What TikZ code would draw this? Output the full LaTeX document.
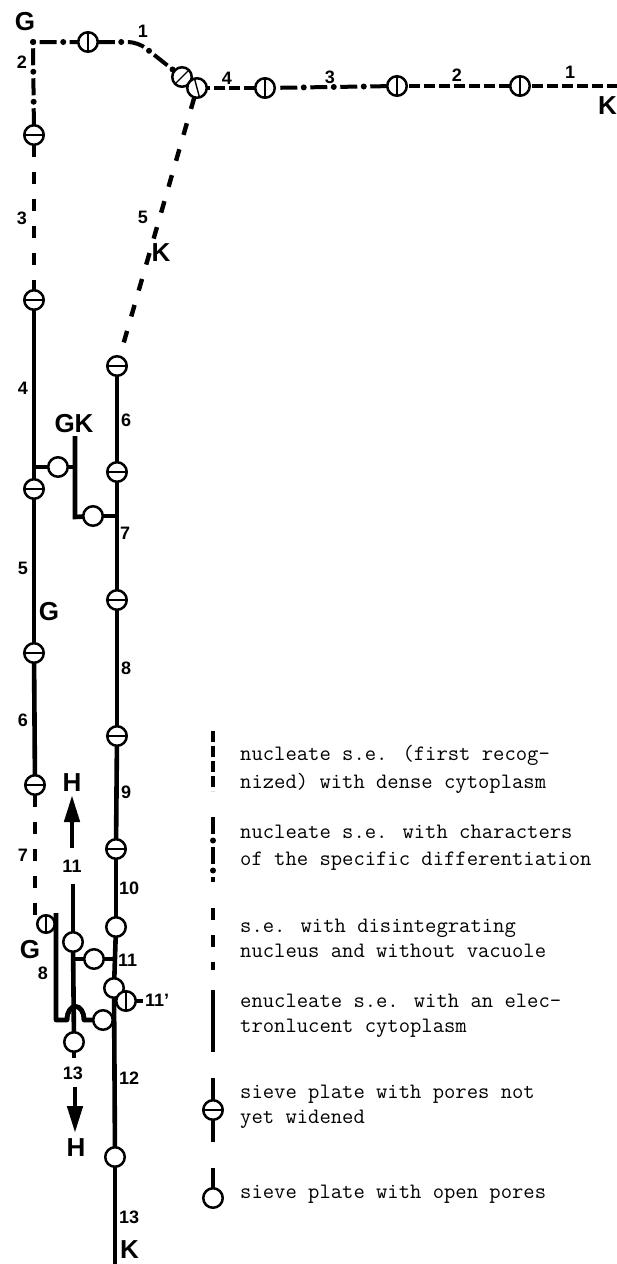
\documentclass[tikz,border=0pt]{standalone}
\usepackage{fontspec}
\setmainfont{Liberation Sans}
\usetikzlibrary{arrows.meta}
\newcommand\platebar[2]{\draw[bar] (#1.center) ++(#2:8.6pt) -- ++(#2+180:17.2pt);}
\begin{document}
\begin{tikzpicture}[x=1pt,y=-1pt,
  se/.style={line width=4.6pt},
  seA/.style={line width=4.2pt, dash pattern=on 11pt off 4pt},
  seB/.style={line width=4pt, dash pattern=on 17pt off 13pt,
     preaction={draw, line width=6pt, line cap=round, dash pattern=on 0pt off 30pt, dash phase=6.5pt}},
  seC/.style={line width=4.4pt, dash pattern=on 12pt off 15pt},
  plate/.style={circle, draw, fill=white, line width=2.5pt, minimum size=19.5pt, inner sep=0pt, outer sep=0pt},
  bar/.style={line width=1.4pt},
  numlab/.style={font=\bfseries\fontsize{18}{18}\selectfont, inner sep=0pt},
  letr/.style={font=\bfseries\fontsize{26}{26}\selectfont, inner sep=0pt},
  leg/.style={font=\ttfamily\fontsize{22}{26}\selectfont, anchor=base west, inner sep=0pt},
  harrow/.style={line width=4.6pt, -{Triangle[length=27pt,width=15pt]}}
]
\useasboundingbox (0,0) rectangle (616,1264);

% ---------------- G line (left) ----------------
\coordinate (Gc) at (33,42);
\node[letr] (Gtop) at (25,22) {G};
\node[plate] (g1a) at (88,42) {}; \platebar{g1a}{90}
\coordinate (g1b) at (138,42);
\node[plate] (g1c) at (182,77) {}; \platebar{g1c}{45}
\node[plate] (g2) at (34,135) {}; \platebar{g2}{0}
\node[plate] (g3) at (34,300) {}; \platebar{g3}{0}
\node[plate] (g4) at (34,489) {}; \platebar{g4}{0}
\node[plate] (g5) at (34,653) {}; \platebar{g5}{0}
\node[plate] (g6) at (35,785) {}; \platebar{g6}{0}

\draw[seB] (g2) -- (Gc) -- (g1a);
\draw[seB, rounded corners=10pt] (g1a) -- (g1b) -- (g1c);
\fill (Gc) circle (3pt);
\draw[seC] (g2) -- (g3);
\draw[se] (g3) -- (g4);
\draw[se] (g4) -- (g5);
\draw[se] (g5) -- (g6);
\coordinate (g7e) at (35,918);
\draw[seC] (g6) -- (g7e);

\node[numlab] (ng1) at (143,31) {1};
\node[numlab] (ng2) at (22,62) {2};
\node[numlab] (ng3) at (22,218) {3};
\node[numlab] (ng4) at (23,388) {4};
\node[numlab] (ng5) at (23,568) {5};
\node[letr] (Gmid) at (49,612) {G};
\node[numlab] (ng6) at (23,720) {6};
\node[numlab] (ng7) at (23,855) {7};

% GK branch
\coordinate (gkj) at (34,467);
\node[plate] (gko) at (58,467) {};
\coordinate (gkm) at (75,467);
\coordinate (gkt) at (75,436);
\coordinate (gkb) at (75,517);
\node[plate] (gkp) at (93,516) {};
\coordinate (k7j) at (117,516);
\draw[se] (gkj) -- (gko);
\draw[se] (gko) -- (gkm);
\draw[se] (gkt) -- (gkb) -- (gkp);
\draw[se] (gkp) -- (k7j);
\node[letr] (GKlab) at (74,424) {GK};

% lower left part (8)
\node[plate, minimum size=17.5pt] (g8) at (46,924) {}; \platebar{g8}{90}
\coordinate (g8t) at (56,913);
\coordinate (g8b) at (56,1020);
\coordinate (g8h1) at (67,1020);
\coordinate (g8h2) at (84,1020);
\node[plate] (hp) at (103,1020) {};
\coordinate (k12j) at (115,1020);
\draw[se, line join=round] (g8t) -- (g8b) -- (g8h1) .. controls (67,1002) and (84,1002) .. (g8h2) -- (hp);
\draw[se] (hp) -- (k12j);
\node[letr] (Glow) at (30,950) {G};
\node[numlab] (ng8) at (43,973) {8};

% ---------------- H branch ----------------
\node[letr] (Hup) at (72,783) {H};
\coordinate (hut) at (72,795);
\coordinate (hus) at (72,848);
\draw[harrow] (hus) -- (hut);
\node[numlab] (nh11) at (72,866) {11};
\coordinate (h11t) at (73,884);
\node[plate] (h11a) at (73,942) {};
\coordinate (h11j) at (73,959);
\node[plate] (h11b) at (94,959) {};
\coordinate (k11j) at (116,959);
\node[plate] (h13p) at (74,1042) {};
\coordinate (h13s) at (74,1058);
\draw[se] (h11t) -- (h11a);
\draw[se] (h11a) -- (h13p);
\draw[se] (h11j) -- (h11b);
\draw[se] (h11b) -- (k11j);
\draw[se] (h13p) -- (h13s);
% redraw hump over vertical
\draw[se] (g8h1) .. controls (67,1002) and (84,1002) .. (g8h2);
\node[numlab] (nh13) at (73,1073) {13};
\coordinate (hds) at (75,1087);
\coordinate (hdt) at (75,1133);
\draw[harrow] (hds) -- (hdt);
\node[letr] (Hdown) at (76,1148) {H};

% ---------------- K line ----------------
\coordinate (kr) at (618,86);
\node[plate] (k1) at (520,86) {}; \platebar{k1}{90}
\node[plate] (k2) at (397,86) {}; \platebar{k2}{90}
\node[plate] (k3) at (265,88) {}; \platebar{k3}{90}
\node[plate] (k4) at (197,88) {}; \platebar{k4}{105}
\draw[seA] (kr) -- (k1);
\draw[seA] (k1) -- (k2);
\draw[seB] (k2) -- (k3);
\draw[seA] (k3) -- (k4);
\node[numlab] (nk1) at (570,72) {1};
\node[numlab] (nk2) at (457,75) {2};
\node[numlab] (nk3) at (330,77) {3};
\node[numlab] (nk4) at (227,78) {4};
\node[letr, anchor=west] (Ktop) at (598,106) {K};

\node[plate] (k6) at (117,366) {}; \platebar{k6}{0}
\draw[seC] (k4) -- (k6);
\node[numlab] (nk5) at (143,217) {5};
\node[letr] (Kmid) at (161,253) {K};

\node[plate] (k7) at (117,472) {}; \platebar{k7}{0}
\node[plate] (k8) at (117,600) {}; \platebar{k8}{0}
\node[plate] (k9) at (117,736) {}; \platebar{k9}{0}
\node[plate] (k10) at (116,849) {}; \platebar{k10}{0}
\node[plate] (k11) at (116,927) {};
\node[plate] (k11b) at (114,988) {};
\node[plate] (k11c) at (126,1001) {}; \platebar{k11c}{90}
\coordinate (k11s) at (143,1001);
\node[plate] (k12) at (115,1157) {};
\coordinate (kbot) at (115,1266);
\draw[se] (k6) -- (k7);
\draw[se] (k7) -- (k8);
\draw[se] (k8) -- (k9);
\draw[se] (k9) -- (k10);
\draw[se] (k10) -- (k11);
\draw[se] (k11) -- (k11b);
\draw[se] (k11c) -- (k11s);
\draw[se] (k11b) -- (k12);
\draw[se] (k12) -- (kbot);

\node[numlab, anchor=west] (nk6) at (121,420) {6};
\node[numlab, anchor=west] (nk7) at (120,533) {7};
\node[numlab, anchor=west] (nk8) at (121,668) {8};
\node[numlab, anchor=west] (nk9) at (121,792) {9};
\node[numlab, anchor=west] (nk10) at (119,888) {10};
\node[numlab, anchor=west] (nk11) at (118,960) {11};
\node[numlab, anchor=west] (nk11p) at (145,1000) {11'};
\node[numlab, anchor=west] (nk12) at (119,1078) {12};
\node[numlab, anchor=west] (nk13) at (119,1217) {13};
\node[letr, anchor=west] (Kbot) at (120,1250) {K};

% ---------------- legend ----------------
\coordinate (l1t) at (213,731); \coordinate (l1b) at (213,791);
\draw[seA] (l1t) -- (l1b);
\coordinate (l2t) at (213,817); \coordinate (l2b) at (213,882);
\draw[seB] (l2t) -- (l2b);
\coordinate (l3t) at (213,908); \coordinate (l3b) at (213,970);
\draw[seC] (l3t) -- (l3b);
\coordinate (l4t) at (213,990); \coordinate (l4b) at (213,1052);
\draw[se] (l4t) -- (l4b);
\node[plate] (l5p) at (213,1110) {}; \platebar{l5p}{0}
\coordinate (l5t) at (213,1078); \coordinate (l5b) at (213,1142);
\draw[se] (l5t) -- (l5p); \draw[se] (l5p) -- (l5b);
\node[plate] (l6p) at (213,1198) {};
\coordinate (l6t) at (213,1168);
\draw[se] (l6t) -- (l6p);

\node[leg] (t1a) at (240,760) {nucleate s.e. (first recog-};
\node[leg] (t1b) at (240,788) {nized) with dense cytoplasm};
\node[leg] (t2a) at (240,838) {nucleate s.e. with characters};
\node[leg] (t2b) at (240,865) {of the specific differentiation};
\node[leg] (t3a) at (240,932) {s.e. with disintegrating};
\node[leg] (t3b) at (240,957) {nucleus and without vacuole};
\node[leg] (t4a) at (240,1007) {enucleate s.e. with an elec-};
\node[leg] (t4b) at (240,1032) {tronlucent cytoplasm};
\node[leg] (t5a) at (240,1098) {sieve plate with pores not};
\node[leg] (t5b) at (240,1123) {yet widened};
\node[leg] (t6a) at (240,1198) {sieve plate with open pores};
\end{tikzpicture}
\end{document}
